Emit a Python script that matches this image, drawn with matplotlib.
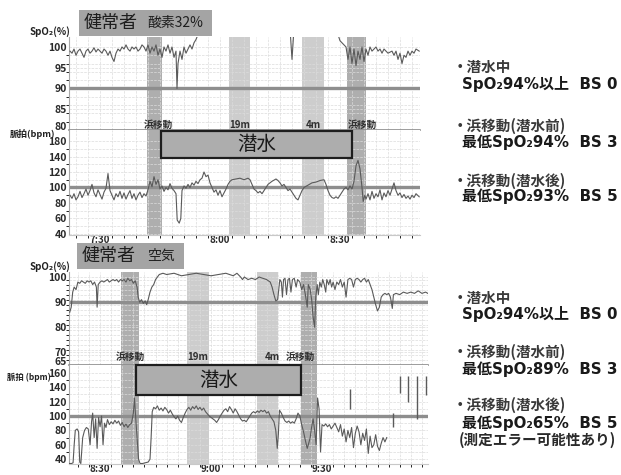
import matplotlib
matplotlib.use('Agg')
import matplotlib.pyplot as plt
from matplotlib.patches import Rectangle

plt.rcParams['font.family'] = ['Noto Sans CJK JP', 'DejaVu Sans']

# ---- data (time in minutes past the hour shown on the left axis) ----
# top chart: 7:00 origin, bottom chart: 8:00 origin
# values above the chart top (during the dive) are off-scale readings
top_spo2 = [
    (22.5, 99), (23, 98.5), (23.5, 99.5), (24, 98), (24.5, 99), (25, 99.5), (25.5, 98.5),
    (26, 97.5), (26.5, 99), (27, 99.5), (27.5, 98.5), (28, 99), (28.5, 99.8), (29, 98.8),
    (29.5, 99.5), (30, 99), (30.5, 98.5), (31, 99.5), (31.5, 99), (32, 98), (32.5, 99),
    (33, 97.5), (33.5, 96.5), (34, 98.5), (34.5, 99.5), (35, 99), (35.5, 100), (36, 99.5),
    (36.5, 100.5), (37, 99.5), (37.5, 99), (38, 100), (38.5, 99.5), (39, 100), (39.5, 99),
    (40, 99.5), (40.5, 100.5), (41, 100), (41.5, 99), (42, 100.5), (42.5, 98.5), (43, 100),
    (43.5, 99), (44, 100.5), (44.5, 98), (45, 99.5), (45.5, 97.5), (46, 100), (46.5, 99),
    (47, 100.5), (47.5, 98.5), (48, 100), (48.5, 97.5), (49, 99), (49.25, 90), (49.5, 96),
    (50, 99), (50.5, 97), (51, 100), (51.5, 98.5), (52, 99.5), (52.5, 100.5), (53, 99.5),
    (53.5, 101), (54, 101.8), (54.5, 103), (60, 103), (64, 103), (68, 103),
    (72, 103), (76, 103), (77.6, 103), (78, 97), (78.4, 103), (80, 103),
    (84, 103), (88, 103), (89.5, 103), (90, 101.5), (91, 100.5), (91.5, 100), (92, 97), (92.5, 100),
    (93, 96), (93.5, 99.5), (94, 95.5), (94.5, 99), (95, 97), (95.5, 100), (96, 96.5),
    (96.5, 99.5), (97, 98), (97.5, 100), (98, 99), (98.5, 99.5), (99, 100), (99.5, 99),
    (100, 99.5), (100.5, 98.5), (101, 99.5), (101.5, 99), (102, 98.5), (103, 99),
    (103.5, 98), (104, 99), (104.5, 97), (105, 98.5), (105.5, 96), (106, 98), (106.5, 97.5),
    (107, 99), (107.5, 98), (108, 99), (108.5, 98.5), (109, 99.5), (109.8, 99),
]

top_pulse = [
    (22.5, 90), (23, 86), (23.5, 92), (24, 84), (24.5, 88), (25, 95), (25.5, 87), (26, 92),
    (26.5, 98), (27, 90), (27.5, 96), (28, 104), (28.5, 93), (29, 88), (29.5, 97), (30, 91),
    (30.5, 85), (31, 94), (31.5, 99), (32, 118), (32.5, 96), (33, 90), (33.5, 84), (34, 92),
    (34.5, 88), (35, 95), (35.5, 86), (36, 93), (36.5, 85), (37, 91), (37.5, 96), (38, 86),
    (38.5, 92), (39, 84), (39.5, 90), (40, 94), (40.5, 87), (41, 92), (41.5, 89), (42, 97),
    (42.5, 108), (43, 101), (43.5, 114), (44, 104), (44.5, 110), (45, 98), (45.5, 102),
    (46, 95), (46.5, 100), (47, 97), (47.5, 105), (48, 99), (48.5, 96), (49, 92), (49.3, 58),
    (49.8, 54), (50.2, 60), (50.5, 96), (51, 102), (51.5, 99), (52, 104), (52.5, 100),
    (53, 106), (53.5, 103), (54, 108), (54.5, 105), (55, 110), (55.5, 112), (56, 120),
    (56.5, 114), (57, 116), (57.5, 106), (58, 100), (58.5, 94), (59, 97), (59.5, 90),
    (60, 96), (60.5, 88), (61, 93), (61.5, 98), (62, 104), (62.5, 108), (63, 110), (64, 111),
    (65, 112), (66, 110), (67, 112), (67.5, 110), (68, 104), (68.5, 98), (69, 96), (69.5, 93),
    (70, 95), (70.5, 92), (71, 96), (71.5, 100), (72, 104), (73, 108), (74, 111), (74.5, 109),
    (75, 106), (75.5, 102), (76, 104), (76.5, 100), (77, 96), (77.5, 98), (78, 94), (78.5, 90),
    (79, 86), (79.5, 84), (80, 90), (80.5, 96), (81, 100), (82, 103), (83, 106), (84, 107),
    (85, 109), (86, 110), (86.5, 104), (87, 96), (87.5, 90), (88, 87), (88.5, 86), (89, 88),
    (89.5, 86), (90, 90), (90.5, 94), (91, 98), (91.5, 100), (92, 97), (92.5, 102), (93, 98),
    (93.5, 108), (94, 128), (94.5, 135), (95, 124), (95.5, 100), (95.8, 82), (96.2, 90),
    (96.5, 85), (97, 92), (97.5, 84), (98, 95), (98.5, 86), (99, 92), (99.5, 88), (100, 97),
    (100.5, 84), (101, 93), (101.5, 88), (102, 96), (102.5, 90), (103, 98), (103.5, 106),
    (104, 96), (104.5, 90), (105, 93), (105.5, 87), (106, 91), (106.5, 86), (107, 89),
    (107.5, 85), (108, 90), (108.5, 87), (109, 92), (109.8, 88),
]

bot_spo2 = [
    (21.8, 86), (22.2, 88), (22.6, 94), (23, 96), (23.5, 95), (24, 98), (24.5, 97.5), (25, 98.5),
    (25.5, 98), (26, 97.5), (26.5, 98.5), (27, 98), (27.5, 98.5), (28, 97), (28.5, 98), (29, 96),
    (29.2, 88), (29.5, 97), (30, 98), (30.5, 98.5), (31, 98), (31.5, 98.5), (32, 99), (32.5, 98),
    (33, 98.5), (33.5, 99), (34, 98.5), (34.5, 99), (35, 98), (35.5, 99), (36, 98.5), (36.5, 99),
    (37, 98), (37.5, 99.5), (38, 98.5), (38.5, 99), (39, 97.5), (39.5, 98.5), (40, 96),
    (40.3, 92), (40.7, 90), (41.2, 91), (41.7, 89.5), (42.2, 90.5), (42.6, 89), (43, 91),
    (43.5, 94), (44, 96), (44.5, 97), (45, 99), (45.5, 100), (46, 101), (47, 101.5), (48, 101),
    (50, 101.5), (52, 100.5), (54, 101), (56, 101.5), (58, 101), (60, 100.5), (62, 101),
    (64, 101.5), (66, 100.5), (67, 101.5), (68, 100), (68.5, 99), (69, 100), (70, 99),
    (71, 99.5), (72, 99), (73, 100), (74, 99.5), (75, 99), (76, 98), (76.5, 96), (77, 93),
    (77.5, 90.5), (78, 91), (78.3, 95), (78.6, 99), (79, 98), (79.3, 92), (79.6, 99), (80, 99.5),
    (80.4, 93), (80.8, 99), (81.2, 99.5), (81.6, 94), (82, 99), (82.5, 99.5), (83, 96),
    (83.4, 99), (84, 98), (84.5, 95), (85, 97), (85.5, 93), (86, 88), (86.3, 97), (86.8, 95),
    (87.2, 91), (87.6, 84), (88, 80), (88.3, 92), (88.7, 97), (89, 93), (89.4, 98), (89.8, 96),
    (90.2, 99), (90.6, 97), (91, 94), (91.3, 99), (91.8, 97), (92.2, 99), (92.6, 96), (93, 98),
    (93.5, 95), (94, 98), (94.5, 97), (95, 99), (95.5, 96), (96, 98), (96.5, 92), (97, 99),
    (97.5, 99.5), (98, 99), (98.5, 96), (99, 99), (99.5, 99.5), (100, 99), (100.5, 98),
    (101, 99), (101.5, 99.5), (102, 98), (102.5, 99), (103, 97), (103.5, 95), (104, 92),
    (104.5, 89), (105, 86.5), (105.5, 88), (106, 92), (106.5, 93), (107, 93.5), (107.5, 93),
    (108, 93.5), (108.5, 92), (109, 87.5), (109.3, 93), (110, 93.5), (111, 93), (112, 94),
    (113, 93.5), (114, 94), (115, 93.5), (116, 94.5), (117, 93.5), (118, 94), (118.6, 93.5),
]

bot_pulse = [
    (21.7, 34), (22.3, 34), (22.7, 35), (23, 60), (23.3, 80), (23.8, 82), (24.2, 78), (24.5, 36),
    (24.8, 34), (25.3, 70), (25.8, 80), (26.3, 84), (26.8, 82), (27.3, 60), (27.7, 92),
    (28, 104), (28.4, 70), (28.8, 96), (29.2, 55), (29.6, 98), (30, 85), (30.4, 100), (30.8, 60),
    (31.2, 90), (31.6, 84), (32, 95), (32.5, 88), (33, 92), (33.5, 89), (34, 94), (34.5, 90),
    (35, 93), (35.5, 87), (36, 91), (36.5, 85), (37, 89), (37.5, 84), (38, 88), (38.5, 90),
    (39, 104), (39.3, 125), (39.6, 100), (40, 70), (40.4, 40), (40.8, 34), (41.5, 34),
    (42.2, 35), (43, 36), (43.5, 40), (43.8, 70), (44.1, 106), (44.5, 112), (45, 110),
    (45.5, 114), (46, 108), (46.5, 111), (47, 107), (47.5, 112), (48, 109), (48.5, 104),
    (49, 108), (49.5, 103), (50, 99), (50.5, 96), (51, 100), (51.5, 94), (52, 91), (52.5, 98),
    (53, 104), (53.5, 109), (54, 112), (54.5, 108), (55, 113), (55.5, 110), (56, 114),
    (56.5, 109), (57, 112), (57.5, 108), (58, 111), (58.5, 106), (59, 103), (59.5, 100),
    (60, 98), (60.5, 96), (61, 94), (61.5, 91), (62, 95), (62.5, 100), (63, 104), (63.5, 108),
    (64, 110), (64.5, 106), (65, 113), (65.5, 109), (66, 104), (66.5, 110), (67, 106),
    (67.5, 101), (68, 96), (68.5, 93), (69, 94), (69.5, 92), (70, 96), (70.5, 100), (71, 104),
    (71.5, 106), (72, 104), (72.5, 107), (73, 105), (73.5, 108), (74, 106), (74.5, 108),
    (75, 104), (75.5, 106), (76, 100), (76.5, 96), (77, 92), (77.5, 80), (77.9, 55), (78.2, 75),
    (78.5, 108), (79, 104), (79.5, 98), (80, 93), (80.5, 91), (81, 93), (81.5, 90), (82, 92),
    (82.5, 90), (83, 96), (83.5, 104), (84, 100), (84.5, 88), (85, 78), (85.5, 66), (86, 55),
    (86.4, 62), (86.8, 70), (87.2, 85), (87.6, 96), (88, 80), (88.4, 60), (88.8, 125),
    (89.2, 110), (89.6, 50), (90, 88), (90.5, 86), (91, 89), (91.5, 85), (92, 88), (92.5, 82),
    (93, 86), (93.5, 90), (94, 84), (94.5, 78), (95, 88), (95.5, 72), (96, 82), (96.5, 64),
    (97, 80), (97.5, 70), (98, 84), (98.5, 56), (99, 76), (99.5, 86), (100, 78), (100.5, 60),
    (101, 76), (101.5, 66), (102, 82), (102.5, 48), (103, 72), (103.5, 56), (104, 60),
    (104.5, 74), (105, 58), (105.5, 52), (106, 62), (106.5, 70), (107, 64), (107.5, 70),
]

# isolated vertical pulse artefacts: (time, low, high)
bot_pulse_spikes = [(97.6, 109, 137), (109.2, 84, 104), (111.1, 132, 156),
                    (113.2, 120, 156), (115.7, 96, 156), (118.1, 129, 156)]

top_bands = [(41.75, 45.5, True), (62.25, 67.5, False), (80.5, 86, False), (91.75, 96.5, True)]
bot_bands = [(35.7, 40.5, True), (53.5, 59.5, False), (72.4, 78.1, False), (84.3, 88.6, True)]
top_band_labels = [('浜移動', 44.5), ('19m', 65), ('4m', 83.25), ('浜移動', 95.5)]
bot_band_labels = [('浜移動', 38.1), ('19m', 56.5), ('4m', 76.5), ('浜移動', 84.1)]

top_xticks, top_xlabels = [30, 60, 90], ['7:30', '8:00', '8:30']
bot_xticks, bot_xlabels = [30, 60, 90], ['8:30', '9:00', '9:30']
top_spo2_ticks = [80, 85, 90, 95, 100]
bot_spo2_ticks = [65, 70, 80, 90, 100]
pulse_ticks = [40, 60, 80, 100, 120, 140, 160]
top_pulse_labels = ['40', '60', '80', '100', '120', '140', '180']
bot_pulse_labels = ['40', '60', '80', '100', '120', '140', '160']

top_notes = [('・潜水中', 'SpO₂94%以上  BS 0'),
             ('・浜移動(潜水前)', '最低SpO₂94%  BS 3'),
             ('・浜移動(潜水後)', '最低SpO₂93%  BS 5')]
bot_notes = [('・潜水中', 'SpO₂94%以上  BS 0'),
             ('・浜移動(潜水前)', '最低SpO₂89%  BS 3'),
             ('・浜移動(潜水後)', '最低SpO₂65%  BS 5')]

W, H = 621, 475
fig = plt.figure(figsize=(W / 100, H / 100), dpi=100)


def box(l, t, r, b):
    return [l / W, 1 - b / H, (r - l) / W, (b - t) / H]


def fx(x):
    return x / W


def fy(y):
    return 1 - y / H


TRACE = '#5a5a5a'
GRID = '#dcdcdc'
BODY_FONT = ['DejaVu Sans', 'Noto Sans CJK JP']


def style(ax, xlim):
    ax.set_xlim(*xlim)
    ax.set_facecolor('white')
    for s in ['top', 'right']:
        ax.spines[s].set_visible(False)
    ax.spines['left'].set_color('#a8a8a8')
    ax.spines['left'].set_linewidth(0.8)
    ax.tick_params(length=0, pad=1.5, labelsize=7.5, colors='#2a2a2a')
    ax.set_xticks([x for x in range(int(xlim[0]) + 1, int(xlim[1]) + 1) if x % 3 == 0], minor=True)
    ax.grid(True, which='minor', axis='x', color=GRID, lw=0.5, ls='--')
    ax.grid(True, which='major', axis='y', color=GRID, lw=0.5, ls='--')


def panel(spo2_box, pulse_box, xlim, spo2_lim, spo2_ticks, pulse_lim, pulse_labels,
          xticks, xlabels, bands, band_labels, label_y, dive, spo2, pulse, spikes=()):
    a1 = fig.add_axes(box(*spo2_box))
    a2 = fig.add_axes(box(*pulse_box))
    style(a1, xlim)
    style(a2, xlim)
    a1.set_ylim(*spo2_lim)
    a2.set_ylim(*pulse_lim)
    a1.set_yticks(spo2_ticks)
    a1.set_yticklabels([str(v) for v in spo2_ticks], fontweight='bold')
    # lowest SpO2 label rests on the divider line
    a1.get_yticklabels()[0].set_va('baseline')
    a1.set_yticks(range(spo2_ticks[0], 101, 2), minor=True)
    a1.grid(True, which='minor', axis='y', color=GRID, lw=0.5, ls='--')
    a2.set_yticks(pulse_ticks)
    a2.set_yticklabels(pulse_labels, fontweight='bold')
    a2.set_yticks(range(40, 170, 10), minor=True)
    a2.grid(True, which='minor', axis='y', color=GRID, lw=0.5, ls='--')
    a1.set_xticks([])
    a1.spines['bottom'].set_color('#8c8c8c')
    a1.spines['bottom'].set_linewidth(1.2)
    a2.spines['bottom'].set_color('#c8c8c8')
    a2.set_xticks(xticks)
    a2.set_xticklabels(xlabels, fontweight='bold')
    a2.tick_params(axis='x', pad=0, labelsize=7)

    for a in (a1, a2):
        for s, e, dark in bands:
            a.axvspan(s, e, color='#aeaeae' if dark else '#cdcdcd', lw=0, zorder=1)

    a1.axhline(90, color='#8e8e8e', lw=2.4, zorder=2)
    a2.axhline(100, color='#8e8e8e', lw=2.4, zorder=2)

    a1.plot([p[0] for p in spo2], [p[1] for p in spo2], color=TRACE, lw=0.8, zorder=3)
    a2.plot([p[0] for p in pulse], [p[1] for p in pulse], color=TRACE, lw=0.8, zorder=3)
    if spikes:
        a2.vlines([s[0] for s in spikes], [s[1] for s in spikes], [s[2] for s in spikes],
                  color=TRACE, lw=1.0, zorder=3)

    for txt, x in band_labels:
        a1.text(x, label_y, txt, ha='center', va='center', fontsize=7, fontweight='bold',
                color='#303030', zorder=6)

    x0, y0, x1, y1 = dive
    a2.add_patch(Rectangle((x0, y0), x1 - x0, y1 - y0, facecolor='#adadad',
                           edgecolor='#1e1e1e', lw=1.6, zorder=5, clip_on=False))
    a2.text((x0 + x1) / 2, (y0 + y1) / 2, '潜水', ha='center', va='center',
            fontsize=14, color='#1a1a1a', zorder=6)
    return a1, a2


panel((69, 37, 420, 130), (69, 130, 420, 235), (22.25, 110), (80, 102.4), top_spo2_ticks,
      (38.7, 174.2), top_pulse_labels, top_xticks, top_xlabels, top_bands, top_band_labels,
      81.3, (45.25, 138, 93, 172.9), top_spo2, top_pulse)

panel((69, 272, 428, 365), (69, 365, 428, 464), (21.6, 118.65), (65, 102), bot_spo2_ticks,
      (33.3, 170.8), bot_pulse_labels, bot_xticks, bot_xlabels, bot_bands, bot_band_labels,
      68.3, (39.7, 129.3, 84.3, 170.3), bot_spo2, bot_pulse, bot_pulse_spikes)

# title boxes
for (l, t, r, b), main, sub, subx in [((79, 10, 212, 36), '健常者', '酸素32%', 147),
                                     ((77, 243, 184, 269), '健常者', '空気', 147)]:
    fig.add_artist(Rectangle((fx(l), fy(b)), (r - l) / W, (b - t) / H, transform=fig.transFigure,
                             facecolor='#a4a4a4', edgecolor='none'))
    yc = fy((t + b) / 2)
    fig.text(fx(l + 5), yc, main, fontsize=13, va='center', ha='left', color='#1e1e1e')
    fig.text(fx(subx), yc, sub, fontsize=10, va='center', ha='left', color='#1e1e1e')

# axis titles
fig.text(fx(70), fy(32), 'SpO₂(%)', fontsize=7, fontweight='bold', ha='right', va='center', color='#222')
fig.text(fx(70), fy(267), 'SpO₂(%)', fontsize=7, fontweight='bold', ha='right', va='center', color='#222')
fig.text(fx(55), fy(134), '脈拍(bpm)', fontsize=6.5, fontweight='bold', ha='right', va='center', color='#222')
fig.text(fx(51), fy(377), '脈拍 (bpm)', fontsize=6, fontweight='bold', ha='right', va='center', color='#222')

# side notes
for notes, ys in [(top_notes, [67, 84, 126, 142, 181, 196]),
                  (bot_notes, [298, 314, 352, 369, 405, 423])]:
    for i, (head, body) in enumerate(notes):
        fig.text(fx(453), fy(ys[2 * i]), head, fontsize=10.5, fontweight='bold', color='#3a3a3a',
                 ha='left', va='center')
        fig.text(fx(462), fy(ys[2 * i + 1]), body, fontsize=10.8, fontweight='bold', color='#1a1a1a',
                 ha='left', va='center', family=BODY_FONT)
fig.text(fx(459), fy(440), '(測定エラー可能性あり)', fontsize=10.5, fontweight='bold', color='#2a2a2a',
         ha='left', va='center')

fig.savefig('out.png', dpi=100)
